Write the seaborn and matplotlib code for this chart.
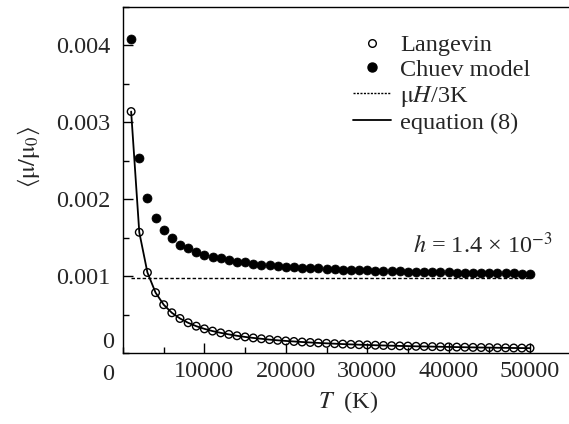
import numpy as np
import pandas as pd
import seaborn as sns
import matplotlib.pyplot as plt
from matplotlib.lines import Line2D
from matplotlib.ticker import MultipleLocator

sns.set_theme(style="ticks")
plt.rcParams['font.family'] = ['Liberation Serif', 'DejaVu Serif']
plt.rcParams['mathtext.fontset'] = 'stix'

# temperature grid (K)
temps = [1000 * k for k in range(1, 51)]

# Langevin result (open circles), units of 1e-3
langevin = [3.14, 1.57, 1.047, 0.785, 0.628, 0.523, 0.449, 0.393, 0.349, 0.314,
            0.285, 0.262, 0.242, 0.224, 0.209, 0.196, 0.185, 0.174, 0.165, 0.157,
            0.150, 0.143, 0.137, 0.131, 0.126, 0.121, 0.116, 0.112, 0.108, 0.105,
            0.101, 0.098, 0.095, 0.092, 0.090, 0.087, 0.085, 0.083, 0.081, 0.079,
            0.077, 0.075, 0.073, 0.071, 0.070, 0.068, 0.067, 0.065, 0.064, 0.063]

# Chuev model (filled circles), units of 1e-3
chuev = [4.08, 2.54, 2.02, 1.76, 1.60, 1.49, 1.41, 1.36, 1.31, 1.28,
         1.25, 1.23, 1.21, 1.19, 1.18, 1.16, 1.15, 1.14, 1.13, 1.125,
         1.12, 1.11, 1.105, 1.10, 1.095, 1.09, 1.085, 1.08, 1.077, 1.073,
         1.07, 1.067, 1.064, 1.061, 1.059, 1.056, 1.054, 1.052, 1.05, 1.048,
         1.046, 1.044, 1.042, 1.04, 1.039, 1.037, 1.036, 1.035, 1.033, 1.032]

# muH/3K limit (dotted)
mu_h_3k = 0.97
mu_h_3k_range = [1000, 50000]

df = pd.DataFrame({"T": temps,
                   "langevin": np.array(langevin) * 1e-3,
                   "chuev": np.array(chuev) * 1e-3})
df_lim = pd.DataFrame({"T": mu_h_3k_range, "v": [mu_h_3k * 1e-3] * 2})

fs = 17.5
fig = plt.figure(figsize=(5.69, 4.24), dpi=100)
ax = fig.add_axes([123 / 569, 71 / 424, 447.7 / 569, 346 / 424])

sns.lineplot(data=df_lim, x="T", y="v", ax=ax, color="black", lw=1.0,
             linestyle=(0, (2.5, 1.5)))
sns.lineplot(data=df, x="T", y="langevin", ax=ax, color="black", lw=1.3)
sns.scatterplot(data=df, x="T", y="langevin", ax=ax, marker="o", s=30,
                facecolor="none", edgecolor="black", linewidth=1.0, zorder=3)
sns.scatterplot(data=df, x="T", y="chuev", ax=ax, marker="o", s=42,
                color="black", edgecolor="black", linewidth=0.5, zorder=3)

ax.set_xlim(0, 55000)
ax.set_ylim(0, 0.0045)
ax.xaxis.set_major_locator(MultipleLocator(10000))
ax.xaxis.set_minor_locator(MultipleLocator(5000))
ax.yaxis.set_major_locator(MultipleLocator(0.001))
ax.yaxis.set_minor_locator(MultipleLocator(0.0005))
ax.set_xticks([10000, 20000, 30000, 40000, 50000])
ax.set_xticklabels(["10000", "20000", "30000", "40000", "50000"])
ax.set_yticks([0.001, 0.002, 0.003, 0.004])
ax.set_yticklabels(["0.001", "0.002", "0.003", "0.004"])
ax.tick_params(which="both", direction="in", labelsize=fs, color="black",
               width=1.0, top=False, right=False)
ax.tick_params(which="major", length=7.5)
ax.tick_params(which="minor", length=4.3)
ax.tick_params(axis="y", which="major", pad=9)
ax.tick_params(axis="x", which="major", pad=6)
for sp in ax.spines.values():
    sp.set_color("black")
    sp.set_linewidth(1.0)

# the shared zeros at the corner
ax.annotate("0", xy=(0, 0), xycoords="data", xytext=(-15, 10),
            textcoords="offset pixels", ha="center", va="center", fontsize=fs)
ax.annotate("0", xy=(0, 0), xycoords="data", xytext=(-15, -22),
            textcoords="offset pixels", ha="center", va="center", fontsize=fs)

ax.set_xlabel(r"$T$  (K)", fontsize=fs)
ax.xaxis.set_label_coords(0.503, -0.105)
ax.set_ylabel(r"$\langle \mathrm{μ}/\mathrm{μ}_0 \rangle$", fontsize=fs)
ax.yaxis.set_label_coords(-0.18, 0.566)

ax.text(35600, 0.0014, r"$h$ = 1.4 × 10$^{-3}$", fontsize=fs, ha="left",
        va="center")

handles = [
    Line2D([], [], ls="none", marker="o", ms=5.5, mfc="none", mec="black", mew=1.0),
    Line2D([], [], ls="none", marker="o", ms=6.5, mfc="black", mec="black"),
    Line2D([], [], color="black", lw=1.0, ls=(0, (1.5, 1))),
    Line2D([], [], color="black", lw=1.3),
]
labels = ["Langevin", "Chuev model", r"$\mathrm{μ}H$/3K", "equation (8)"]
fig.legend(handles, labels, loc="upper left", bbox_to_anchor=(353 / 569, 1 - 34 / 424),
           frameon=False, fontsize=fs, handlelength=1.55, handletextpad=0.38,
           labelspacing=0.12, borderpad=0, borderaxespad=0)

fig.savefig("out.png", dpi=100)
